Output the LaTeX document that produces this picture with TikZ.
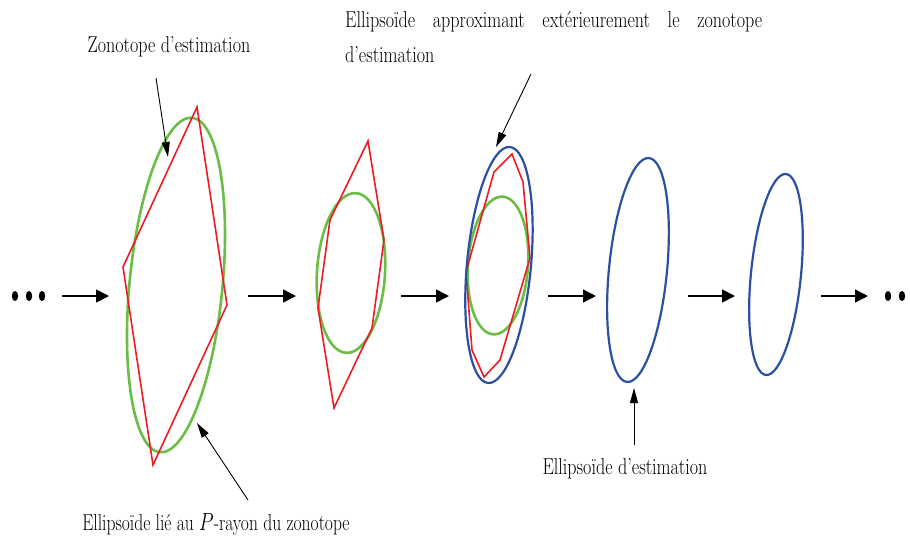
\documentclass[tikz,border=0pt]{standalone}
\usetikzlibrary{arrows.meta}
\definecolor{zred}{RGB}{237,28,36}
\definecolor{zgreen}{RGB}{106,189,69}
\definecolor{zblue}{RGB}{43,80,163}
\begin{document}
\begin{tikzpicture}[x=1pt,y=-1pt,
  zono/.style={draw=zred, line width=1.6pt, line join=miter},
  pell/.style={draw=zgreen, line width=2.6pt},
  eell/.style={draw=zblue, line width=2.2pt},
  flow/.style={line width=1.6pt, -{Triangle[length=13pt,width=13pt]}},
  note/.style={line width=0.9pt, -{Triangle[length=15pt,width=8pt]}},
  lab/.style={font=\fontsize{23}{35}\selectfont, xscale=0.787, inner sep=0pt}]
\useasboundingbox (0,0) rectangle (910,542);
\clip (0,0) rectangle (910,542);

% dots
\fill (15,296) ellipse [x radius=3.2pt, y radius=5pt];
\fill (29,296) ellipse [x radius=3.2pt, y radius=5pt];
\fill (42,296) ellipse [x radius=3.2pt, y radius=5pt];
\fill (888,296) ellipse [x radius=3.2pt, y radius=5pt];
\fill (902,296) ellipse [x radius=3.2pt, y radius=5pt];

% centers
\coordinate (c1) at (176,285);
\coordinate (c2) at (351,273);
\coordinate (c3) at (498,265.5);
\coordinate (b3) at (499,265);
\coordinate (b4) at (638,270);
\coordinate (b5) at (776,274.5);

% step 1
\draw[pell, rotate around={-5.5:(c1)}] (c1) ellipse [x radius=46.5pt, y radius=168pt];
\draw[zono] (197,107) -- (227,305) -- (153,465) -- (123,267) -- cycle;
% step 2
\draw[pell, rotate around={-3.5:(c2)}] (c2) ellipse [x radius=34pt, y radius=80pt];
\draw[zono] (368,141) -- (384,240) -- (372,328) -- (334,408) -- (318,308) -- (330,220) -- cycle;
% step 3
\draw[pell, rotate around={-4:(c3)}] (c3) ellipse [x radius=30pt, y radius=69pt];
\draw[zono] (512,154) -- (523,182) -- (530,258) -- (500,360) -- (484,377) -- (472,350) -- (466,272) -- (494,172) -- cycle;
\draw[eell, rotate around={-5.3:(b3)}] (b3) ellipse [x radius=32pt, y radius=118.5pt];
% steps 4, 5
\draw[eell, rotate around={-5.6:(b4)}] (b4) ellipse [x radius=29pt, y radius=112.5pt];
\draw[eell, rotate around={-5.7:(b5)}] (b5) ellipse [x radius=25pt, y radius=101pt];

% flow arrows
\coordinate (f1s) at (62,296);  \coordinate (f1e) at (109,296);
\coordinate (f2s) at (248,296); \coordinate (f2e) at (296,296);
\coordinate (f3s) at (401,296); \coordinate (f3e) at (449,296);
\coordinate (f4s) at (548,296); \coordinate (f4e) at (596,296);
\coordinate (f5s) at (688,296); \coordinate (f5e) at (735,296);
\coordinate (f6s) at (821,296); \coordinate (f6e) at (868,296);
\draw[flow] (f1s) -- (f1e);
\draw[flow] (f2s) -- (f2e);
\draw[flow] (f3s) -- (f3e);
\draw[flow] (f4s) -- (f4e);
\draw[flow] (f5s) -- (f5e);
\draw[flow] (f6s) -- (f6e);

% labels
\node[lab, anchor=base] (zl) at (169,52) {Zonotope d’estimation};
\node[lab, anchor=north west, align=left] (el) at (345,11)
  {\makebox[530pt][s]{Ellipsoïde approximant extérieurement le zonotope}\\d’estimation};
\node[lab, xscale=0.97, anchor=base] (pl) at (216,530) {Ellipsoïde lié au $P$-rayon du zonotope};
\node[lab, anchor=base] (dl) at (625,474) {Ellipsoïde d’estimation};

% annotation arrows
\coordinate (a1t) at (156,78);  \coordinate (a1h) at (168,157);
\coordinate (a2t) at (531,74);  \coordinate (a2h) at (496,147);
\coordinate (a3t) at (248,500); \coordinate (a3h) at (197,423);
\coordinate (a4t) at (634,445); \coordinate (a4h) at (634,388);
\draw[note] (a1t) -- (a1h);
\draw[note] (a2t) -- (a2h);
\draw[note] (a3t) -- (a3h);
\draw[note] (a4t) -- (a4h);
\end{tikzpicture}
\end{document}
